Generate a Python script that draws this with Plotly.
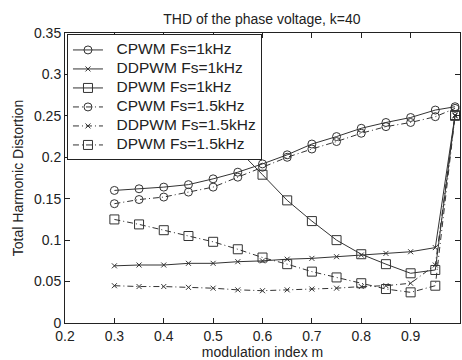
import plotly.graph_objects as go

m = [0.3, 0.35, 0.4, 0.45, 0.5, 0.55, 0.6, 0.65, 0.7, 0.75, 0.8, 0.85, 0.9, 0.95, 0.99]

cpwm_1k = [0.160, 0.162, 0.164, 0.167, 0.174, 0.182, 0.192, 0.203, 0.216, 0.225, 0.235, 0.242, 0.248, 0.257, 0.261]
ddpwm_1k = [0.069, 0.070, 0.070, 0.072, 0.072, 0.074, 0.075, 0.077, 0.078, 0.080, 0.082, 0.084, 0.086, 0.091, 0.251]
dpwm_1k = [0.320, 0.305, 0.285, 0.265, 0.240, 0.210, 0.179, 0.148, 0.123, 0.100, 0.083, 0.071, 0.060, 0.064, 0.251]
cpwm_15k = [0.144, 0.149, 0.152, 0.158, 0.164, 0.176, 0.188, 0.200, 0.210, 0.219, 0.229, 0.237, 0.242, 0.249, 0.259]
ddpwm_15k = [0.045, 0.044, 0.044, 0.043, 0.042, 0.040, 0.039, 0.040, 0.041, 0.042, 0.044, 0.045, 0.048, 0.070, 0.250]
dpwm_15k = [0.125, 0.119, 0.112, 0.105, 0.098, 0.089, 0.079, 0.071, 0.062, 0.055, 0.048, 0.041, 0.037, 0.045, 0.250]

names = ["CPWM Fs=1kHz", "DDPWM Fs=1kHz", "DPWM Fs=1kHz",
         "CPWM Fs=1.5kHz", "DDPWM Fs=1.5kHz", "DPWM Fs=1.5kHz"]
series = [cpwm_1k, ddpwm_1k, dpwm_1k, cpwm_15k, ddpwm_15k, dpwm_15k]
symbols = ["circle-open", "x-thin-open", "square-open",
           "circle-open", "x-thin-open", "square-open"]
sizes = [8, 5, 9, 8, 5, 9]
dashes = ["solid", "solid", "solid", "6px,3px,1px,3px", "6px,3px,1px,3px", "6px,3px,1px,3px"]

fig = go.Figure()
for name, ys, sym, sz, dash in zip(names, series, symbols, sizes, dashes):
    fig.add_trace(go.Scatter(
        x=m, y=ys,
        name="<span style='font-size:15.5px'>\u00a0\u00a0" + name + "</span>",
        mode="lines+markers",
        line=dict(color="#333333", width=1, dash=dash),
        marker=dict(symbol=sym, size=sz, color="#333333",
                    line=dict(color="#333333", width=1)),
    ))

axis_common = dict(showline=True, linecolor="#222222", linewidth=1, mirror="ticks",
                   ticks="inside", ticklen=5, tickcolor="#222222", showgrid=False,
                   zeroline=False, tickfont=dict(size=14, color="#222222"))

fig.update_layout(
    width=462, height=360,
    margin=dict(l=65, r=1, t=33, b=32),
    paper_bgcolor="white", plot_bgcolor="white",
    font=dict(family="Liberation Sans, Arial, sans-serif", size=14, color="#222222"),
    title=dict(text="THD of the phase voltage, k=40", x=0.567, xanchor="center",
               y=0.947, yanchor="middle", font=dict(size=14)),
    xaxis=dict(range=[0.2, 1.0], dtick=0.1, tick0=0.2,
               title=dict(text="modulation index m", standoff=5, font=dict(size=14)),
               **axis_common),
    yaxis=dict(range=[0, 0.35], dtick=0.05, tick0=0,
               title=dict(text="Total Harmonic Distortion", standoff=7, font=dict(size=14)),
               **axis_common),
    legend=dict(x=0.005, y=0.995, xanchor="left", yanchor="top",
                bgcolor="white", bordercolor="#222222", borderwidth=1,
                font=dict(size=11.5), tracegroupgap=0, itemwidth=30),
    showlegend=True,
)

fig.write_html("out.html")
